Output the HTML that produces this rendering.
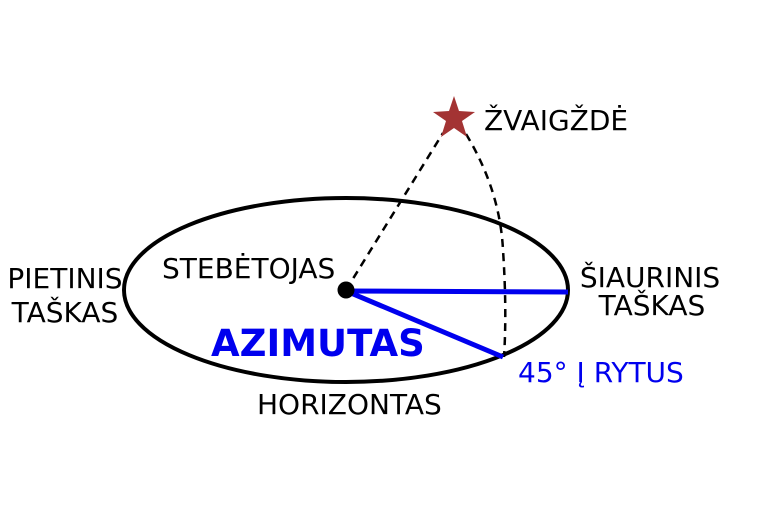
<!DOCTYPE html>
<html><head><style>body{margin:0;background:#fff}</style></head><body>
<svg width="767" height="512" viewBox="0 0 767 512" xmlns="http://www.w3.org/2000/svg" font-family="DejaVu Sans, Liberation Sans, sans-serif">
<rect width="767" height="512" fill="#fff"/>
<ellipse cx="346" cy="290" rx="222" ry="92" fill="none" stroke="#000" stroke-width="4"/>
<line x1="346" y1="290" x2="443" y2="133" stroke="#000" stroke-width="2.5" stroke-dasharray="8,6"/>
<path d="M466,134 Q500,190 503,250 Q507,310 504,357" fill="none" stroke="#000" stroke-width="2.5" stroke-dasharray="8,6"/>
<line x1="346" y1="291" x2="568" y2="292" stroke="#0000ee" stroke-width="5"/>
<line x1="346" y1="291" x2="503" y2="357" stroke="#0000ee" stroke-width="5"/>
<circle cx="346" cy="290" r="8.5" fill="#000"/>
<polygon points="454,96 459,111 475,112 462,121 467,137 454,128 441,137 446,121 433,112 449,111" fill="#a33333"/>
<g font-size="28" fill="#000">
<text x="484" y="130">ŽVAIGŽDĖ</text>
<text x="162" y="278">STEBĖTOJAS</text>
<text x="65" y="288" text-anchor="middle">PIETINIS</text>
<text x="65" y="322" text-anchor="middle">TAŠKAS</text>
<text x="650" y="287" text-anchor="middle">ŠIAURINIS</text>
<text x="652" y="315" text-anchor="middle">TAŠKAS</text>
<text x="257" y="414">HORIZONTAS</text>
</g>
<text x="211" y="356" font-size="37" font-weight="bold" fill="#0000ee">AZIMUTAS</text>
<text x="518" y="382" font-size="28" fill="#0000ee">45° Į RYTUS</text>
</svg>
</body></html>
